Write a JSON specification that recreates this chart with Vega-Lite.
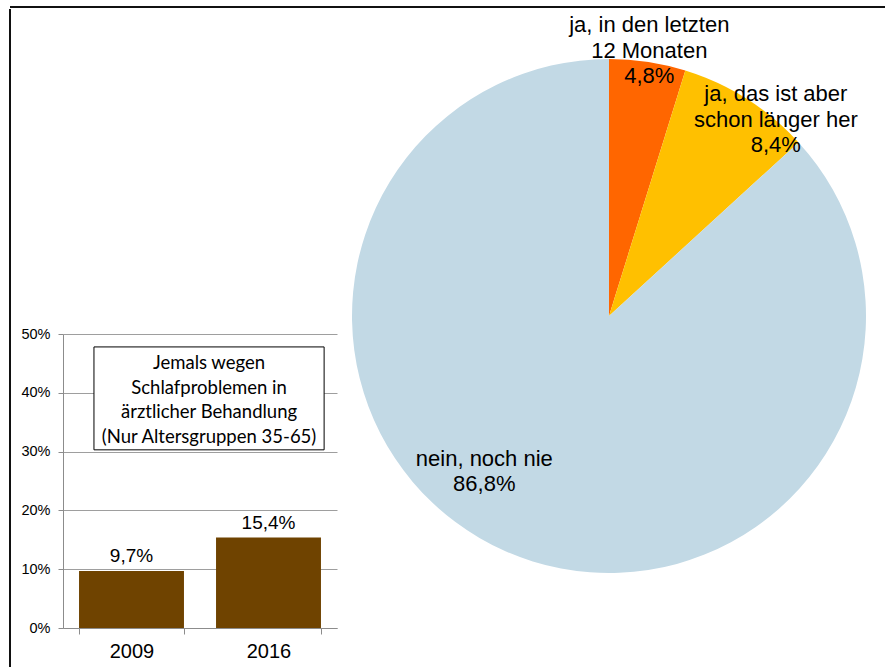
{
  "$schema": "https://vega.github.io/schema/vega-lite/v6.json",
  "padding": {"left": 9, "top": 6, "right": 0, "bottom": 0},
  "background": "white",
  "datasets": {
    "pie": [
      {"category": "ja, in den letzten 12 Monaten", "label": "ja, in den letzten\n12 Monaten\n4,8%", "share": 0.048},
      {"category": "ja, das ist aber schon länger her", "label": "ja, das ist aber\nschon länger her\n8,4%", "share": 0.084},
      {"category": "nein, noch nie", "label": "nein, noch nie\n86,8%", "share": 0.868}
    ],
    "bars": [
      {"year": "2009", "share": 0.097},
      {"year": "2016", "share": 0.154}
    ],
    "note": [
      {"text": "Jemals wegen\nSchlafproblemen in\närztlicher Behandlung\n(Nur Altersgruppen 35-65)"}
    ]
  },
  "align": "each",
  "spacing": 0,
  "vconcat": [
    {
      "width": 875,
      "height": 1,
      "data": {"name": "note"},
      "mark": {"type": "rule", "color": "#111111", "strokeWidth": 2},
      "encoding": {
        "y": {"datum": 1, "type": "quantitative", "scale": {"domain": [0, 1]}, "axis": null}
      }
    },
    {
      "align": "each",
      "spacing": 9,
      "hconcat": [
        {
          "width": 1,
          "height": 658,
          "data": {"name": "note"},
          "mark": {"type": "rule", "color": "#111111", "strokeWidth": 2},
          "encoding": {
            "x": {"datum": 0, "type": "quantitative", "scale": {"domain": [0, 1]}, "axis": null}
          }
        },
        {
          "align": "each",
          "spacing": 0,
          "vconcat": [
            {
              "width": 1,
              "height": 317,
              "data": {"name": "note"},
              "mark": {"type": "text"},
              "encoding": {"text": {"value": ""}}
            },
            {
              "width": 274,
              "height": 294,
              "data": {"name": "bars"},
              "resolve": {"scale": {"x": "independent"}, "axis": {"x": "independent"}},
              "layer": [
                {
                  "mark": {"type": "bar", "color": "#6F4300"},
                  "encoding": {
                    "x": {"field": "year", "type": "nominal",
                          "scale": {"paddingInner": 0.234, "paddingOuter": 0.117},
                          "axis": {"title": null, "labelAngle": 0, "labelFontSize": 20, "labelFont": "Liberation Sans", "labelColor": "#000000",
                                   "tickBand": "extent", "tickSize": 6, "labelPadding": 7, "domainColor": "#8C8C8C", "tickColor": "#8C8C8C", "grid": false}},
                    "y": {"field": "share", "type": "quantitative",
                          "scale": {"domain": [0, 0.5]},
                          "axis": {"title": null,
                                   "values": [0, 0.1, 0.2, 0.3, 0.4, 0.5], "format": ".0%",
                                   "labelFontSize": 14.5, "labelFont": "Liberation Sans", "labelColor": "#000000",
                                   "tickSize": 5, "labelPadding": 8, "domainColor": "#8C8C8C", "tickColor": "#8C8C8C",
                                   "grid": true, "gridColor": "#9E9E9E"}}
                  }
                },
                {
                  "mark": {"type": "text", "baseline": "alphabetic", "dy": -8.5, "fontSize": 19, "font": "Liberation Sans", "color": "#000000"},
                  "encoding": {
                    "x": {"field": "year", "type": "nominal", "scale": {"paddingInner": 0.234, "paddingOuter": 0.117}, "axis": null},
                    "y": {"field": "share", "type": "quantitative"},
                    "text": {"field": "share", "type": "quantitative", "format": ".1%"}
                  }
                },
                {
                  "data": {"name": "note"},
                  "mark": {"type": "rect", "fill": "#FFFFFF", "stroke": "#000000", "strokeWidth": 1},
                  "encoding": {
                    "x": {"datum": 0.113, "type": "quantitative", "scale": {"domain": [0, 1]}, "axis": null},
                    "x2": {"datum": 0.953},
                    "y": {"datum": 0.303, "type": "quantitative"},
                    "y2": {"datum": 0.478}
                  }
                },
                {
                  "data": {"name": "note"},
                  "mark": {"type": "text", "align": "center", "baseline": "middle", "lineBreak": "\n", "font": "Lato", "fontSize": 18.5, "lineHeight": 24.7, "color": "#000000"},
                  "encoding": {
                    "x": {"datum": 0.533, "type": "quantitative", "scale": {"domain": [0, 1]}, "axis": null},
                    "y": {"datum": 0.4507, "type": "quantitative"},
                    "text": {"field": "text", "type": "nominal"}
                  }
                }
              ]
            }
          ]
        },
        {
          "width": 526,
          "height": 614,
          "data": {"name": "pie"},
          "encoding": {
            "theta": {"field": "share", "type": "quantitative", "stack": true},
            "order": {"field": "share", "type": "quantitative", "sort": "ascending"}
          },
          "layer": [
            {
              "mark": {"type": "arc", "outerRadius": 257, "stroke": null},
              "encoding": {
                "color": {"field": "category", "type": "nominal",
                          "scale": {"domain": ["ja, in den letzten 12 Monaten", "ja, das ist aber schon länger her", "nein, noch nie"],
                                    "range": ["#FF6600", "#FFC000", "#C2D9E5"]},
                          "legend": null}
              }
            },
            {
              "mark": {"type": "text", "radius": 268, "dx": 0, "dy": -26, "align": "center", "baseline": "middle", "lineBreak": "\n", "font": "Liberation Sans", "fontSize": 22, "lineHeight": 25.5, "color": "#000000"},
              "encoding": {
                "detail": {"field": "category", "type": "nominal"},
                "text": {"condition": {"test": "datum.category === 'ja, in den letzten 12 Monaten'", "field": "label", "type": "nominal"}, "value": ""}
              }
            },
            {
              "mark": {"type": "text", "radius": 233, "dx": 42, "dy": -25, "align": "center", "baseline": "middle", "lineBreak": "\n", "font": "Liberation Sans", "fontSize": 22, "lineHeight": 25.5, "color": "#000000"},
              "encoding": {
                "detail": {"field": "category", "type": "nominal"},
                "text": {"condition": {"test": "datum.category === 'ja, das ist aber schon länger her'", "field": "label", "type": "nominal"}, "value": ""}
              }
            },
            {
              "mark": {"type": "text", "radius": 168, "dx": -57, "dy": -11, "align": "center", "baseline": "middle", "lineBreak": "\n", "font": "Liberation Sans", "fontSize": 22, "lineHeight": 25.5, "color": "#000000"},
              "encoding": {
                "detail": {"field": "category", "type": "nominal"},
                "text": {"condition": {"test": "datum.category === 'nein, noch nie'", "field": "label", "type": "nominal"}, "value": ""}
              }
            }
          ]
        }
      ]
    }
  ],
  "config": {
    "view": {"stroke": null},
    "font": "Liberation Sans",
    "locale": {"number": {"decimal": ",", "thousands": ".", "grouping": [3], "currency": ["", "\u00a0€"]}}
  }
}
